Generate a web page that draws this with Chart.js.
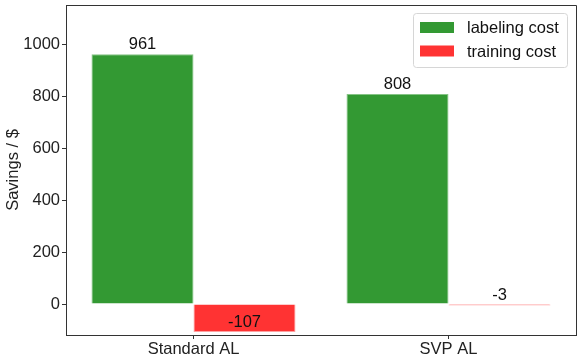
<!DOCTYPE html>
<html>
<head>
<meta charset="utf-8">
<script src="https://cdn.jsdelivr.net/npm/chart.js@4.4.1/dist/chart.umd.min.js"></script>
<style>
 html, body { margin: 0; padding: 0; background: #fff; }
 #wrap { width: 581px; height: 362px; }
</style>
</head>
<body>
<div id="wrap"><canvas id="savingsChart" width="581" height="362"></canvas></div>
<script>
const categories = ['Standard AL', 'SVP AL'];
const labelingCost = [961, 808];
const trainingCost = [-107, -3];
const yTicks = [0, 200, 400, 600, 800, 1000];

const FONT = '"Liberation Sans", Arial, sans-serif';
const INK = '#222';

// value labels sit on the bar end, text bottom at the value
const valueLabels = {
 id: 'valueLabels',
 afterDatasetsDraw(chart) {
  const ctx = chart.ctx;
  ctx.save();
  ctx.font = '16.5px ' + FONT;
  ctx.fillStyle = '#111';
  ctx.textAlign = 'center';
  ctx.textBaseline = 'bottom';
  chart.data.datasets.forEach((ds, i) => {
   chart.getDatasetMeta(i).data.forEach((bar, j) => {
    const y = chart.scales.y.getPixelForValue(ds.data[j]);
    ctx.fillText(String(ds.data[j]), bar.x, y - 1);
   });
  });
  ctx.restore();
 }
};

// top/right spines and a matplotlib style legend box
const frameAndLegend = {
 id: 'frameAndLegend',
 afterDraw(chart) {
  const ctx = chart.ctx;
  const a = chart.chartArea;
  ctx.save();
  ctx.strokeStyle = '#333';
  ctx.lineWidth = 1;
  ctx.beginPath();
  ctx.moveTo(a.left, a.top + 0.5);
  ctx.lineTo(a.right + 0.5, a.top + 0.5);
  ctx.lineTo(a.right + 0.5, a.bottom);
  ctx.stroke();

  const bx = 413, by = 13, bw = 154, bh = 54;
  ctx.fillStyle = 'rgba(255,255,255,0.8)';
  ctx.strokeStyle = '#d6d6d6';
  ctx.beginPath();
  ctx.roundRect(bx + 0.5, by + 0.5, bw, bh, 3);
  ctx.fill();
  ctx.stroke();

  ctx.font = '16.5px ' + FONT;
  ctx.textBaseline = 'middle';
  ctx.textAlign = 'left';
  chart.data.datasets.forEach((ds, i) => {
   const cy = by + 14.5 + i * 23.5;
   ctx.fillStyle = ds.backgroundColor;
   ctx.fillRect(bx + 7, cy - 5.5, 34, 11);
   ctx.fillStyle = '#111';
   ctx.fillText(ds.label, bx + 54, cy + 1);
  });
  ctx.restore();
 }
};

new Chart(document.getElementById('savingsChart').getContext('2d'), {
 type: 'bar',
 data: {
  labels: categories,
  datasets: [
   {
    label: 'labeling cost',
    data: labelingCost,
    backgroundColor: 'rgba(0,128,0,0.8)',
    borderColor: 'rgba(120,190,120,0.9)',
    borderWidth: 1,
    categoryPercentage: 0.8,
    barPercentage: 1.0
   },
   {
    label: 'training cost',
    data: trainingCost,
    backgroundColor: 'rgba(255,0,0,0.8)',
    borderColor: 'rgba(255,150,150,0.9)',
    borderWidth: 1,
    minBarLength: 1.5,
    categoryPercentage: 0.8,
    barPercentage: 1.0
   }
  ]
 },
 options: {
  responsive: false,
  animation: false,
  layout: { padding: { top: 5, right: 5, left: 0, bottom: 0 } },
  plugins: {
   legend: { display: false },
   tooltip: { enabled: false }
  },
  scales: {
   x: {
    offset: true,
    grid: { display: true, drawOnChartArea: false, drawTicks: true, tickLength: 4, color: '#333', offset: false },
    border: { display: true, color: '#333' },
    ticks: { color: INK, font: { family: FONT, size: 16.5 }, padding: 1 },
    afterFit(scale) { scale.height = 27; scale.paddingLeft = 0; scale.paddingRight = 0; }
   },
   y: {
    min: -119,
    max: 1150,
    afterBuildTicks(scale) { scale.ticks = yTicks.map(v => ({ value: v })); },
    grid: { display: true, drawOnChartArea: false, drawTicks: true, tickLength: 4, color: '#333' },
    border: { display: true, color: '#333' },
    ticks: { color: INK, font: { family: FONT, size: 16.5 }, padding: 2, callback: v => String(v) },
    title: { display: true, text: 'Savings / $', color: INK, font: { family: FONT, size: 16.5 }, padding: { top: 4, bottom: 4 } },
    afterFit(scale) { scale.width = 66; scale.paddingTop = 0; scale.paddingBottom = 0; }
   }
  }
 },
 plugins: [valueLabels, frameAndLegend]
});
</script>
</body>
</html>
